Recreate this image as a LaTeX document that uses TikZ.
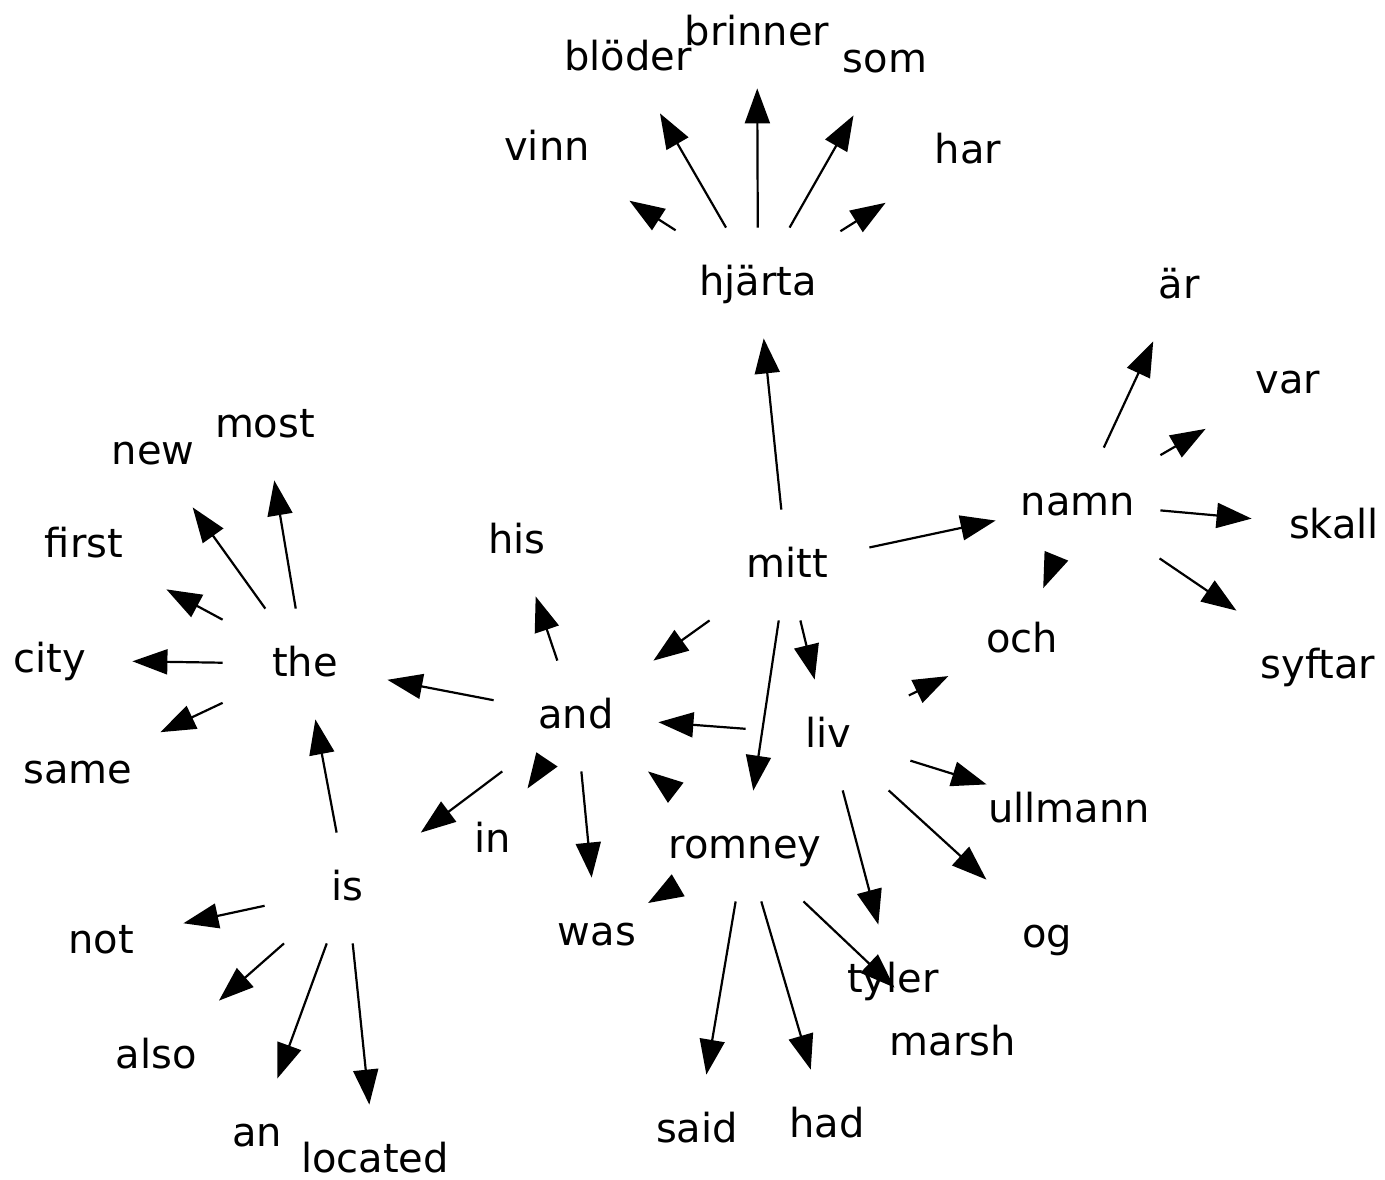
\documentclass[tikz,border=0pt]{standalone}
\usepackage{fontspec}
\setmainfont{DejaVu Sans}
\usetikzlibrary{arrows.meta}
\begin{document}
\begin{tikzpicture}[x=0.5pt,y=-0.5pt,
  w/.style={inner sep=0pt, minimum width=82pt, minimum height=55pt,
    text height=16pt, text depth=4pt, font=\fontsize{20}{24}\selectfont},
  e/.style={-{Triangle[length=17.5pt,width=12.5pt]}, line width=1.1pt}]
\useasboundingbox (0,0) rectangle (1385,1179);
% nodes
\node[w] (brinner) at (757,33) {brinner};
\node[w] (bloder) at (628,58) {blöder};
\node[w] (som) at (885,60) {som};
\node[w] (vinn) at (547,148) {vinn};
\node[w] (har) at (968,151) {har};
\node[w] (hjarta) at (758,283) {hjärta};
\node[w] (ar) at (1179,286) {är};
\node[w] (var) at (1288,381) {var};
\node[w] (most) at (265,425) {most};
\node[w] (new) at (153,452) {new};
\node[w] (namn) at (1078,503) {namn};
\node[w] (skall) at (1334,526) {skall};
\node[w] (first) at (84,545) {first};
\node[w] (his) at (517,541) {his};
\node[w] (mitt) at (787,565) {mitt};
\node[w] (och) at (1022,640) {och};
\node[w] (city) at (50,660) {city};
\node[w] (the) at (305,664) {the};
\node[w] (syftar) at (1318,666) {syftar};
\node[w] (and) at (576,716) {and};
\node[w] (liv) at (828,735) {liv};
\node[w] (same) at (78,771) {same};
\node[w] (ullmann) at (1069,810) {ullmann};
\node[w] (in) at (493,840) {in};
\node[w] (romney) at (745,846) {romney};
\node[w] (is) at (347,888) {is};
\node[w] (og) at (1047,935) {og};
\node[w] (was) at (597,933) {was};
\node[w] (not) at (101,941) {not};
\node[w] (tyler) at (893,980) {tyler};
\node[w] (marsh) at (953,1043) {marsh};
\node[w] (also) at (156,1056) {also};
\node[w] (said) at (697,1130) {said};
\node[w] (had) at (827,1125) {had};
\node[w] (an) at (257,1134) {an};
\node[w] (located) at (375,1160) {located};
% edges
\foreach \t in {vinn,bloder,brinner,som,har} \draw[e] (hjarta) -- (\t);
\foreach \t in {hjarta,namn,and,romney,liv} \draw[e] (mitt) -- (\t);
\foreach \t in {ar,var,skall,syftar} \draw[e] (namn) -- (\t);
\draw[e, shorten <=29pt, shorten >=28pt] (namn.center) -- (och.center);
\draw[e, shorten <=45pt, shorten >=41pt] (liv.center) -- (och.center);
\foreach \t in {and,ullmann,og,tyler} \draw[e] (liv) -- (\t);
\foreach \t in {said,had,marsh,and} \draw[e] (romney) -- (\t);
\draw[e, shorten <=39pt, shorten >=29.6pt] (romney.center) -- (was.center);
\foreach \t in {his,the,is,was} \draw[e] (and) -- (\t);
\draw[e, shorten <=27.5pt, shorten >=31pt] (and.center) -- (in.center);
\foreach \t in {most,new,first,city,same} \draw[e] (the) -- (\t);
\foreach \t in {the,not,also,an,located} \draw[e] (is) -- (\t);
\end{tikzpicture}
\end{document}
